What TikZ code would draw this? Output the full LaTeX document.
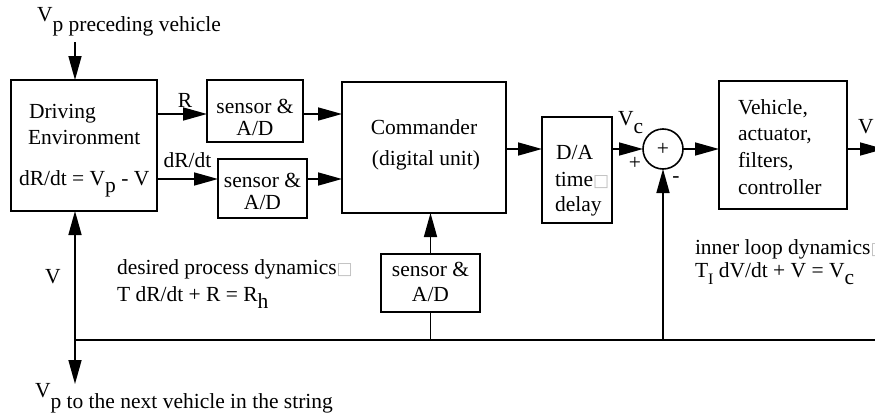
\documentclass[tikz,border=0pt]{standalone}
\usepackage{fontspec}
\setmainfont{Liberation Serif}
\newfontfamily\symfont{DejaVu Sans}
\usetikzlibrary{arrows.meta}
\newcommand{\lowr}[2]{\raisebox{-#1}{#2}}
\newcommand{\miss}{\textcolor{gray!50}{\symfont\fontsize{17}{17}\selectfont □}}
\begin{document}
\begin{tikzpicture}[x=1pt,y=-1pt,
  every node/.style={inner sep=0pt, outer sep=0pt, font=\fontsize{21.5}{26}\selectfont},
  lbl/.style={anchor=base west},
  lblc/.style={anchor=base},
  blk/.style={draw, line width=1.6pt},
  conn/.style={line width=1.6pt},
  arr/.style={conn, -{Triangle[length=24pt,width=13pt]}}]
\useasboundingbox (0,0) rectangle (875,415);
\clip (0,0) rectangle (875,415);
% blocks
\node[blk, minimum width=146pt, minimum height=131pt] (env) at (84,145.5) {};
\node[blk, minimum width=96pt, minimum height=62pt] (s1) at (255,111) {};
\node[blk, minimum width=89pt, minimum height=59pt] (s2) at (262.5,188.5) {};
\node[blk, minimum width=164pt, minimum height=131pt] (cmd) at (424,147.5) {};
\node[blk, minimum width=70pt, minimum height=106pt] (DA) at (577,170) {};
\node[blk, circle, minimum size=40pt] (sum) at (663,149) {+};
\node[blk, minimum width=128pt, minimum height=128pt] (veh) at (783,145) {};
\node[blk, minimum width=99pt, minimum height=58pt] (s3) at (430.5,283) {};
% texts
\node[lbl] (tvp) at (37,21) {V\lowr{10pt}{p preceding vehicle}};
\node[lblc] (tR) at (185,107) {R};
\node[lblc] (tdR) at (187.5,167) {dR/dt};
\node[lbl] (te1) at (29,118.5) {Driving};
\node[lbl] (te2) at (28,144.5) {Environment};
\node[lbl] (te3) at (19,185) {dR/dt = V\lowr{7pt}{p} - V};
\node[lblc] (ts1a) at (255,113) {sensor \&};
\node[lblc] (ts1b) at (255,135) {A/D};
\node[lblc] (ts2a) at (262.5,187) {sensor \&};
\node[lblc] (ts2b) at (262.5,209) {A/D};
\node[lblc] (tc1) at (424,134) {Commander};
\node[lblc] (tc2) at (426,165) {(digital unit)};
\node[lbl] (td1) at (556,159) {D/A};
\node[lbl] (td2) at (555,186) {time\miss};
\node[lbl] (td3) at (555,211) {delay};
\node[lbl] (tvc) at (618,125) {V\lowr{8pt}{c}};
\node (tplus) at (635,163) {+};
\node (tminus) at (676,180) {-};
\node[lbl] (tv1) at (738,114) {Vehicle,};
\node[lbl] (tv2) at (738,140) {actuator,};
\node[lbl] (tv3) at (738,167) {filters,};
\node[lbl] (tv4) at (738,194) {controller};
\node[lbl] (tvout) at (858,133) {V};
\node[lbl] (til1) at (695,254) {inner loop dynamics\miss};
\node[lbl] (til2) at (695,277) {T\lowr{7pt}{\fontsize{16}{16}\selectfont I} dV/dt + V = V\lowr{7pt}{c}};
\node[lbl] (tdp1) at (117,274) {desired process dynamics\miss};
\node[lbl] (tdp2) at (117,301) {T dR/dt + R = R\lowr{7pt}{h}};
\node[lblc] (ts3a) at (430.5,276) {sensor \&};
\node[lblc] (ts3b) at (430.5,301) {A/D};
\node[lblc] (tvl) at (53,283) {V};
\node[lbl] (tvnext) at (35,397) {V\lowr{11pt}{p to the next vehicle in the string}};
% connectors
\coordinate (vpin) at (75,42);
\coordinate (bl) at (75,340);
\coordinate (br) at (885,340);
\coordinate (vdown) at (75,384);
\coordinate (vout) at (884,149);
\draw[arr] (vpin) -- (vpin |- env.north);
\draw[arr] (env.east |- 0,114) -- (s1.west |- 0,114);
\draw[arr] (s1.east |- 0,114) -- (cmd.west |- 0,114);
\draw[arr] (env.east |- 0,179) -- (s2.west |- 0,179);
\draw[arr] (s2.east |- 0,179) -- (cmd.west |- 0,179);
\draw[arr] (cmd.east |- sum) -- (DA.west |- sum);
\draw[arr] (DA.east |- sum) -- (sum);
\draw[arr] (sum) -- (veh.west |- sum);
\draw[arr] (veh.east |- sum) -- (vout);
\draw[conn] (bl) -- (br);
\draw[arr] (bl) -- (bl |- env.south);
\draw[arr] (bl) -- (vdown);
\draw[arr] (sum |- bl) -- (sum);
\draw[conn] (s3.south) -- (s3.south |- bl);
\draw[arr] (s3.north) -- (s3.north |- cmd.south);
\end{tikzpicture}
\end{document}
